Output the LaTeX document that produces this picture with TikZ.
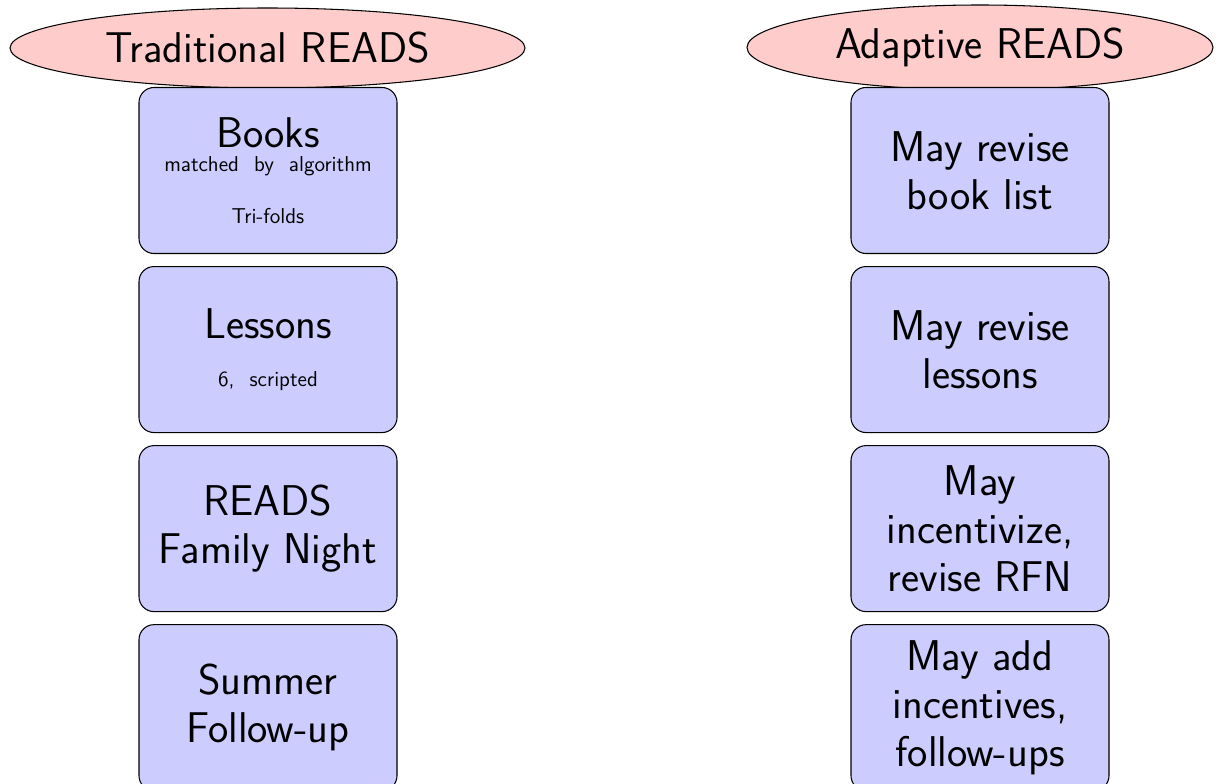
\documentclass[tikz,border=0pt]{standalone}
\usepackage{tikz}
\usetikzlibrary{positioning,shapes}

\newcommand{\bigtxt}{\fontsize{24.5}{27.5}\selectfont\sffamily}
\newcommand{\smalltxt}{\fontsize{12.25}{27.5}\selectfont\spaceskip=0.7em\relax}

\begin{document}
\begin{tikzpicture}[node distance=0.24cm,
	head/.style={ellipse, draw=black, line width=0.6pt, fill=red!20, inner sep=0pt, font=\bigtxt},
	item/.style={rectangle, draw=black, line width=0.6pt, fill=blue!20, rounded corners=0.3cm, minimum width=5.16cm, minimum height=3.32cm, align=center, font=\bigtxt}]
	\useasboundingbox (0,0) rectangle (24.44,-15.68);

	\node (trad) [head, minimum width=10.3cm, minimum height=1.6cm] at (5.35,-0.96) {Traditional READS};
	\node (adapt) [head, minimum width=9.32cm, minimum height=1.7cm] at (19.6,-0.95) {Adaptive READS};

	\node (books) [item] at (5.36,-3.41)
	{
		Books\\[-14pt]
		{\smalltxt matched by algorithm}\\[2pt]
		{\smalltxt Tri-folds}
	};
	\node (lessons) [item, below=of books]
	{
		Lessons\\
		{\smalltxt 6, scripted}
	};
	\node (night) [item, below=of lessons] {READS\\Family Night};
	\node (summer) [item, below=of night] {Summer\\Follow-up};

	\node (revbooks) [item] at (19.6,-3.41) {May revise\\book list};
	\node (revlessons) [item, below=of revbooks] {May revise\\lessons};
	\node (revnight) [item, below=of revlessons] {May\\incentivize,\\revise RFN};
	\node (revsummer) [item, below=of revnight] {May add\\incentives,\\follow-ups};
\end{tikzpicture}
\end{document}
